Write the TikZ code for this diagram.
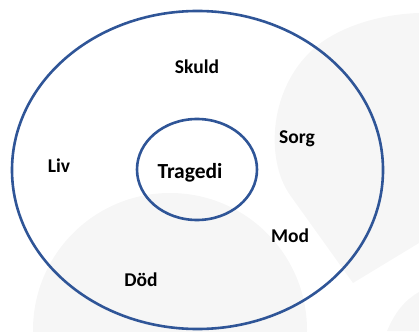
\documentclass[tikz,border=0pt]{standalone}
\usepackage{fontspec}
\setmainfont{Carlito}
\definecolor{ringblue}{RGB}{47,85,151}
\definecolor{palegray}{RGB}{246,246,246}
\begin{document}
\begin{tikzpicture}[x=1pt,y=-1pt,
word/.style={font=\fontsize{19.5}{23}\selectfont\bfseries,anchor=base,inner sep=0pt},
ring/.style={draw=ringblue,line width=2.6pt}]
\useasboundingbox(0,0)rectangle(419,331);
\begin{scope}
\clip(0,0)rectangle(419,331);
\fill[palegray](170,330)circle[radius=137];
\fill[palegray](353,283)--(290,195)..controls(265,160)and(268,85)..(318,45)..controls(345,24)and(385,14)..(419,13)--(419,243)--cycle;
\fill[palegray](387,331)..controls(395,312)and(405,300)..(419,292)--(419,331)--cycle;
\end{scope}
\draw[ring](197.5,170)ellipse[x radius=185.5,y radius=159];
\draw[ring](197,169.5)ellipse[x radius=60,y radius=50.5];
\node[word](skuld)at(197,74){Skuld};
\node[word](sorg)at(297,143){Sorg};
\node[word](liv)at(59,172){Liv};
\node[word,font=\fontsize{21.5}{25}\selectfont\bfseries](tragedi)at(190,178){Tragedi};
\node[word](mod)at(290,242){Mod};
\node[word](dod)at(141,286){Död};
\end{tikzpicture}
\end{document}
